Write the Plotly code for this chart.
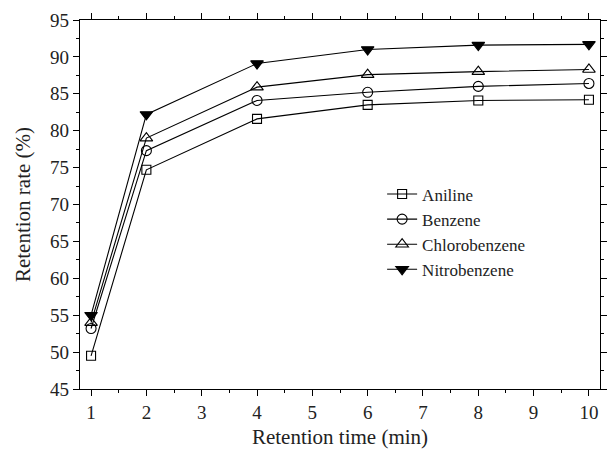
import plotly.graph_objects as go

time_min = [1, 2, 4, 6, 8, 10]
aniline = [49.5, 74.7, 81.6, 83.5, 84.1, 84.2]
benzene = [53.2, 77.3, 84.1, 85.2, 86.0, 86.4]
chlorobenzene = [54.0, 79.0, 85.9, 87.6, 88.0, 88.3]
nitrobenzene = [55.0, 82.2, 89.1, 91.0, 91.6, 91.7]

series = [
    ("Aniline", aniline, "square-open", 9),
    ("Benzene", benzene, "circle-open", 10),
    ("Chlorobenzene", chlorobenzene, "triangle-up-open", 11),
    ("Nitrobenzene", nitrobenzene, "triangle-down", 11),
]

fig = go.Figure()
for name, vals, sym, sz in series:
    fig.add_trace(go.Scatter(
        x=time_min, y=vals, name=name, mode="lines+markers",
        line=dict(color="black", width=1.1),
        marker=dict(symbol=sym, size=sz, color="black", line=dict(color="black", width=1.1)),
    ))

font = "Liberation Serif, Times New Roman, serif"
fig.update_layout(
    width=608, height=449,
    margin=dict(l=80, r=1, t=20, b=60),
    paper_bgcolor="white", plot_bgcolor="white",
    font=dict(family=font, size=19, color="#222"),
    showlegend=True,
    legend=dict(x=0.581, y=0.576, xanchor="left", yanchor="top",
                bgcolor="rgba(0,0,0,0)", font=dict(size=17, family=font),
                tracegroupgap=0, itemsizing="trace"),
    xaxis=dict(
        range=[0.8, 10.2], tickmode="array", tickvals=list(range(1, 11)),
        ticks="outside", ticklen=6, tickwidth=1.3, tickcolor="black",
        showline=True, linecolor="black", linewidth=1.3, mirror="ticks",
        showgrid=False, zeroline=False,
        minor=dict(ticks="outside", ticklen=3, tickwidth=1.3, tickcolor="black",
                   tickvals=[x + 0.5 for x in range(1, 10)]),
        title=dict(text="Retention time (min)", font=dict(size=21, family=font), standoff=10),
        tickfont=dict(size=19, family=font),
    ),
    yaxis=dict(
        range=[45, 95], tickmode="array", tickvals=list(range(45, 96, 5)),
        ticks="outside", ticklen=6, tickwidth=1.3, tickcolor="black",
        showline=True, linecolor="black", linewidth=1.3, mirror="ticks",
        showgrid=False, zeroline=False,
        minor=dict(ticks="outside", ticklen=3, tickwidth=1.3, tickcolor="black",
                   tickvals=[y + 2.5 for y in range(45, 95, 5)]),
        title=dict(text="Retention rate (%)", font=dict(size=21, family=font), standoff=13),
        tickfont=dict(size=19, family=font),
    ),
)

fig.write_html("out.html")
